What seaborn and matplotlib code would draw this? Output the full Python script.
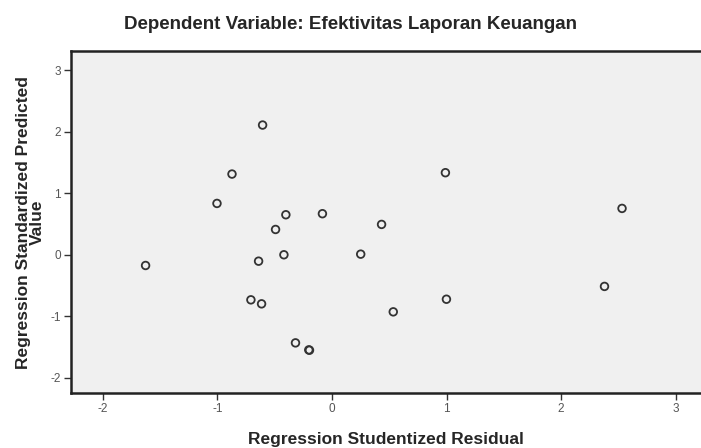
import matplotlib
matplotlib.use('Agg')
import matplotlib.pyplot as plt
import seaborn as sns

# residual vs predicted values
studentized_resid = [-0.605, -0.872, -1.003, -0.402, -0.083, 0.433, -0.492, -0.419,
                     0.251, -1.626, -0.640, -0.707, -0.614, 0.535, -0.318, -0.202,
                     -0.196, 0.990, 2.531, 2.378, 0.999]
standardized_pred = [2.107, 1.311, 0.834, 0.650, 0.667, 0.493, 0.411, 0.000,
                     0.010, -0.174, -0.104, -0.732, -0.797, -0.927, -1.431, -1.545,
                     -1.550, 1.333, 0.753, -0.514, -0.722]
x_ticks = [-2, -1, 0, 1, 2, 3]
y_ticks = [-2, -1, 0, 1, 2, 3]

sns.set_style('white')
plt.rcParams['font.family'] = ['Liberation Sans', 'DejaVu Sans']
plt.rcParams['axes.unicode_minus'] = False

fig = plt.figure(figsize=(7.01, 4.48), dpi=100)
ax = fig.add_axes([0.1009, 0.1221, 0.8991, 0.7641])
ax.set_facecolor('#f0f0f0')

sns.scatterplot(x=studentized_resid, y=standardized_pred, ax=ax, marker='o',
                facecolor='none', edgecolor='#333333', linewidth=1.3, s=30, zorder=3)

ax.set_xlim(-2.279, 3.22)
ax.set_ylim(-2.25, 3.31)
ax.set_xticks(x_ticks)
ax.set_yticks(y_ticks)
ax.tick_params(axis='both', direction='out', length=5, width=1, color='#333333',
               labelsize=8.5, labelcolor='#555555', bottom=True, left=True, pad=2)

for side in ['left', 'bottom', 'top']:
    ax.spines[side].set_color('#222222')
    ax.spines[side].set_linewidth(1.8)
ax.spines['right'].set_visible(False)

ax.set_xlabel('Regression Studentized Residual', fontsize=12.5, fontweight='bold', labelpad=12)
ax.set_ylabel('Regression Standardized Predicted\nValue', fontsize=12.5, fontweight='bold',
              labelpad=4, linespacing=0.95)
fig.text(0.5, 0.945, 'Dependent Variable: Efektivitas Laporan Keuangan', ha='center',
         va='center', fontsize=13.5, fontweight='bold')

fig.savefig('out.png', dpi=100)
